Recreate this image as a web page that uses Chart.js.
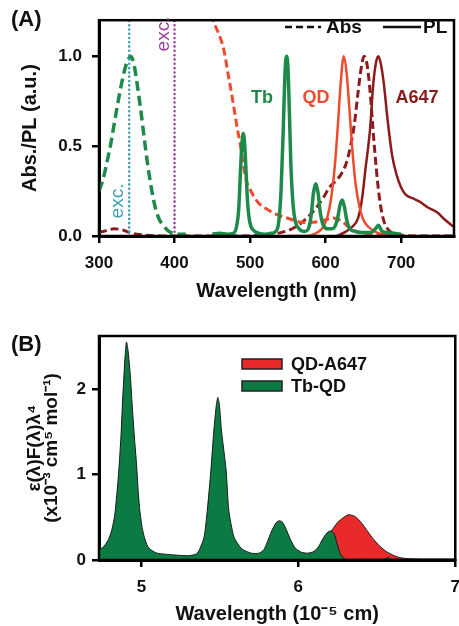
<!DOCTYPE html>
<html>
<head>
<meta charset="utf-8">
<script src="https://cdn.jsdelivr.net/npm/chart.js@4.4.1/dist/chart.umd.min.js"></script>
<style>
  html, body { margin: 0; padding: 0; background: #fff; overflow: hidden; width: 459px; height: 626px; }
  #chartA { position: absolute; left: 0; top: 0; }
  #chartB { position: absolute; left: 0; top: 310px; }
</style>
</head>
<body>
<canvas id="chartA" width="459" height="310"></canvas>
<canvas id="chartB" width="470" height="316"></canvas>
<script>
// ---------- panel A: absorption / PL spectra ----------
const tbAbsNm = [300, 305, 310, 315, 320, 325, 330, 335, 340, 342, 346, 350, 355, 360, 365, 370, 375, 380, 385, 390, 395, 400, 408, 415];
const tbAbsVal = [0.25, 0.31, 0.4, 0.5, 0.62, 0.74, 0.85, 0.94, 0.99, 1.0, 0.96, 0.86, 0.71, 0.54, 0.38, 0.25, 0.15, 0.09, 0.06, 0.035, 0.02, 0.015, 0.01, 0.01];

const tbPlNm = [450, 460, 470, 478, 482, 485, 487, 489, 491, 493, 495, 497, 500, 505, 512, 520, 528, 535, 538, 541, 544, 546, 548, 550, 552, 554, 557, 560, 565, 572, 578, 581, 584, 587, 590, 593, 597, 603, 608, 612, 616, 619, 622, 625, 628, 632, 640, 648, 660, 666, 670, 674, 680, 690, 700];
const tbPlVal = [0.01, 0.015, 0.01, 0.015, 0.05, 0.15, 0.33, 0.5, 0.57, 0.5, 0.33, 0.17, 0.07, 0.03, 0.015, 0.01, 0.015, 0.03, 0.08, 0.25, 0.6, 0.88, 1.0, 0.95, 0.7, 0.4, 0.17, 0.08, 0.04, 0.025, 0.05, 0.12, 0.24, 0.29, 0.24, 0.13, 0.06, 0.04, 0.04, 0.05, 0.1, 0.17, 0.2, 0.16, 0.09, 0.04, 0.025, 0.02, 0.02, 0.04, 0.06, 0.03, 0.02, 0.015, 0.01];

const qdAbsNm = [445, 451, 458, 465, 471, 478, 483, 487, 491, 495, 500, 505, 512, 522, 535, 549, 560, 570, 580, 590, 600, 610, 618, 625, 632, 640, 650, 665, 680, 700];
const qdAbsVal = [1.3, 1.2, 1.13, 1.04, 0.9, 0.73, 0.6, 0.51, 0.4, 0.31, 0.26, 0.22, 0.18, 0.15, 0.12, 0.1, 0.085, 0.075, 0.075, 0.08, 0.09, 0.1, 0.09, 0.07, 0.045, 0.025, 0.015, 0.008, 0.005, 0];

const qdPlNm = [550, 575, 585, 595, 602, 607, 612, 616, 620, 624, 628, 632, 636, 640, 645, 650, 657, 665, 675, 690, 700];
const qdPlVal = [0, 0, 0.01, 0.04, 0.1, 0.2, 0.38, 0.6, 0.85, 1.0, 0.9, 0.68, 0.45, 0.28, 0.16, 0.09, 0.05, 0.025, 0.01, 0, 0];

const a647AbsNm = [300, 310, 320, 330, 340, 350, 360, 380, 420, 480, 530, 550, 560, 570, 580, 590, 598, 605, 612, 620, 627, 633, 638, 643, 647, 651, 655, 659, 663, 667, 671, 676, 682, 690, 700, 720, 770];
const a647AbsVal = [0.02, 0.03, 0.04, 0.035, 0.02, 0.01, 0.005, 0, 0, 0, 0.01, 0.03, 0.05, 0.08, 0.12, 0.17, 0.22, 0.27, 0.3, 0.34, 0.4, 0.5, 0.62, 0.8, 0.93, 1.0, 0.95, 0.8, 0.58, 0.38, 0.22, 0.1, 0.04, 0.015, 0.005, 0, 0];

const a647PlNm = [615, 625, 635, 643, 648, 653, 659, 663, 667, 670, 673, 677, 682, 688, 694, 700, 706, 715, 725, 735, 748, 758, 770];
const a647PlVal = [0, 0.02, 0.05, 0.1, 0.2, 0.38, 0.6, 0.84, 0.97, 1.0, 0.96, 0.85, 0.65, 0.45, 0.34, 0.27, 0.23, 0.21, 0.19, 0.16, 0.13, 0.09, 0.05];

const excNm = [340, 400];
const xTicksA = [300, 400, 500, 600, 700];
const yTicksA = [0, 0.5, 1.0];
const yTickLabelsA = ['0.0', '0.5', '1.0'];

// ---------- panel B: overlap integrands ----------
const tbQdCm = [4.73, 4.75, 4.77, 4.79, 4.81, 4.83, 4.85, 4.86, 4.87, 4.88, 4.895, 4.905, 4.915, 4.93, 4.94, 4.955, 4.97, 4.98, 4.99, 5.005, 5.02, 5.04, 5.06, 5.1, 5.2, 5.3, 5.35, 5.37, 5.4, 5.42, 5.443, 5.462, 5.478, 5.487, 5.497, 5.51, 5.54, 5.557, 5.59, 5.64, 5.7, 5.75, 5.78, 5.8, 5.83, 5.86, 5.88, 5.9, 5.92, 5.95, 5.98, 6.02, 6.06, 6.1, 6.13, 6.16, 6.19, 6.21, 6.23, 6.25, 6.27, 6.3, 6.4, 6.55, 6.57, 6.59, 6.7, 7.0];
const tbQdVal = [0.13, 0.14, 0.18, 0.24, 0.34, 0.52, 0.9, 1.15, 1.45, 1.85, 2.35, 2.55, 2.45, 2.15, 1.85, 1.45, 1.1, 0.8, 0.58, 0.38, 0.26, 0.16, 0.12, 0.08, 0.06, 0.05, 0.07, 0.12, 0.27, 0.58, 1.05, 1.52, 1.82, 1.9, 1.82, 1.52, 1.05, 0.58, 0.27, 0.13, 0.08, 0.08, 0.12, 0.2, 0.34, 0.44, 0.46, 0.44, 0.37, 0.24, 0.14, 0.09, 0.08, 0.1, 0.16, 0.26, 0.33, 0.34, 0.3, 0.17, 0.06, 0.01, 0.01, 0.01, 0.03, 0.01, 0.01, 0.01];

const qdA647Cm = [5.5, 6.0, 6.06, 6.1, 6.15, 6.2, 6.25, 6.29, 6.32, 6.36, 6.4, 6.44, 6.48, 6.52, 6.56, 6.6, 6.64, 6.7, 6.8, 7.0];
const qdA647Val = [0.01, 0.01, 0.04, 0.08, 0.16, 0.31, 0.44, 0.5, 0.53, 0.51, 0.44, 0.34, 0.24, 0.16, 0.1, 0.06, 0.03, 0.015, 0.01, 0.01];

const xTicksB = [5, 6, 7];
const yTicksB = [0, 1, 2];

const FONT = '"Liberation Sans", Arial, sans-serif';
Chart.defaults.font.family = FONT;
Chart.defaults.color = '#111';

const toPts = (xs, ys) => xs.map((x, i) => ({ x: x, y: ys[i] }));

function line(data, color, width, dash) {
  return {
    data: data,
    borderColor: color,
    borderWidth: width,
    borderDash: dash || [],
    pointRadius: 0,
    fill: false,
    cubicInterpolationMode: 'monotone',
    borderJoinStyle: 'round'
  };
}

function axisStyle(tickPad) {
  return {
    border: { color: '#000', width: 3 },
    grid: { drawOnChartArea: false, drawTicks: true, tickLength: 7, lineWidth: 2.5, color: '#000' },
    ticks: { color: '#111', padding: tickPad, maxRotation: 0, font: { size: 17, weight: 'bold' } }
  };
}

const framePlugin = {
  id: 'frame',
  afterDatasetsDraw(chart) {
    const { ctx, chartArea: a } = chart;
    ctx.save();
    ctx.strokeStyle = '#000';
    ctx.lineWidth = 2.5;
    ctx.strokeRect(a.left, a.top, a.right - a.left, a.bottom - a.top);
    ctx.restore();
  }
};

const labelsA = {
  id: 'labelsA',
  afterDraw(chart) {
    const ctx = chart.ctx;
    const xs = chart.scales.x;
    ctx.save();
    ctx.textBaseline = 'middle';
    ctx.fillStyle = '#111';
    ctx.font = 'bold 22px ' + FONT;
    ctx.textAlign = 'left';
    ctx.fillText('(A)', 11, 20);

    // legend
    ctx.strokeStyle = '#111';
    ctx.lineWidth = 2.5;
    ctx.setLineDash([7, 4]);
    ctx.beginPath(); ctx.moveTo(285, 27); ctx.lineTo(321, 27); ctx.stroke();
    ctx.setLineDash([]);
    ctx.beginPath(); ctx.moveTo(383, 27); ctx.lineTo(421, 27); ctx.stroke();
    ctx.font = 'bold 19px ' + FONT;
    ctx.fillText('Abs', 326, 28);
    ctx.fillText('PL', 423, 28);

    // curve labels
    ctx.font = 'bold 18px ' + FONT;
    ctx.textAlign = 'center';
    ctx.fillStyle = '#1d8a4a'; ctx.fillText('Tb', 262, 98);
    ctx.fillStyle = '#ee4a2e'; ctx.fillText('QD', 316, 98);
    ctx.fillStyle = '#8c1c1c'; ctx.fillText('A647', 417, 98);

    // excitation labels
    ctx.font = '19px ' + FONT;
    ctx.save();
    ctx.translate(xs.getPixelForValue(excNm[1]) - 11, 34);
    ctx.rotate(-Math.PI / 2);
    ctx.fillStyle = '#9b3f9e';
    ctx.fillText('exc.', 0, 0);
    ctx.restore();
    ctx.save();
    ctx.translate(xs.getPixelForValue(excNm[0]) - 11, 201);
    ctx.rotate(-Math.PI / 2);
    ctx.fillStyle = '#3d9fb2';
    ctx.fillText('exc.', 0, 0);
    ctx.restore();
    ctx.restore();
  }
};

const labelsB = {
  id: 'labelsB',
  afterDraw(chart) {
    const ctx = chart.ctx;
    const items = [['QD-A647', '#e82a2a'], ['Tb-QD', '#0b7a43']];
    ctx.save();
    ctx.fillStyle = '#111';
    ctx.textBaseline = 'middle';
    ctx.textAlign = 'left';
    ctx.font = 'bold 22px ' + FONT;
    ctx.fillText('(B)', 11, 35);
    ctx.font = 'bold 18px ' + FONT;
    items.forEach((it, i) => {
      const y = 54 + i * 22;
      ctx.fillStyle = it[1];
      ctx.fillRect(242, y - 5, 40, 10);
      ctx.strokeStyle = '#222';
      ctx.lineWidth = 1.5;
      ctx.strokeRect(242, y - 5, 40, 10);
      ctx.fillStyle = '#111';
      ctx.fillText(it[0], 291, y + 1);
    });
    ctx.restore();
  }
};

const xA = axisStyle(10);
xA.type = 'linear';
xA.min = 300;
xA.max = 770;
xA.afterBuildTicks = s => { s.ticks = xTicksA.map(v => ({ value: v })); };
xA.afterFit = s => { s.height = 74; };
xA.ticks.callback = v => String(v);
xA.title = { display: true, text: 'Wavelength (nm)', color: '#111', font: { size: 20, weight: 'bold' }, padding: { top: 0, bottom: 7 } };

const yA = axisStyle(10);
yA.min = 0;
yA.max = 1.2;
yA.afterBuildTicks = s => { s.ticks = yTicksA.map(v => ({ value: v })); };
yA.afterFit = s => { s.width = 99; };
yA.ticks.callback = (v, i) => yTickLabelsA[i];
yA.title = { display: true, text: 'Abs./PL (a.u.)', color: '#111', font: { size: 20, weight: 'bold' }, padding: { top: 18, bottom: 0 } };

new Chart(document.getElementById('chartA'), {
  type: 'line',
  data: {
    datasets: [
      Object.assign(line(toPts([excNm[0], excNm[0]], [0, 1.2]), '#3d9fb2', 2.5, [0.1, 4.2]), { borderCapStyle: 'round' }),
      Object.assign(line(toPts([excNm[1], excNm[1]], [0, 1.2]), '#9b3f9e', 2.5, [0.1, 4.2]), { borderCapStyle: 'round' }),
      line(toPts(tbPlNm, tbPlVal), '#1d8a4a', 3.5),
      line(toPts(tbAbsNm, tbAbsVal), '#1d8a4a', 3.5, [10, 5]),
      line(toPts(qdAbsNm, qdAbsVal), '#ee4a2e', 3, [8, 4]),
      line(toPts(qdPlNm, qdPlVal), '#ee4a2e', 2.5),
      line(toPts(a647AbsNm, a647AbsVal), '#8c1c1c', 3, [8, 4]),
      line(toPts(a647PlNm, a647PlVal), '#8c1c1c', 2.5)
    ]
  },
  options: {
    responsive: false,
    animation: false,
    layout: { padding: { left: 0, right: 5, top: 11, bottom: 0 } },
    plugins: { legend: { display: false }, tooltip: { enabled: false } },
    scales: { x: xA, y: yA }
  },
  plugins: [framePlugin, labelsA]
});

const xB = axisStyle(10);
xB.type = 'linear';
xB.min = 4.73;
xB.max = 7;
xB.afterBuildTicks = s => { s.ticks = xTicksB.map(v => ({ value: v })); };
xB.afterFit = s => { s.height = 66; };
xB.ticks.callback = v => String(v);
xB.title = { display: true, text: 'Wavelength (10\u207B\u2075 cm)', color: '#111', font: { size: 20, weight: 'bold' }, padding: { top: 0, bottom: 0 } };

const yB = axisStyle(6);
yB.min = 0;
yB.max = 2.62;
yB.afterBuildTicks = s => { s.ticks = yTicksB.map(v => ({ value: v })); };
yB.afterFit = s => { s.width = 99; };
yB.ticks.callback = v => String(v);
yB.title = {
  display: true,
  text: ['\u03B5(\u03BB)F(\u03BB)\u03BB\u2074', '(x10\u207B\u00B3 cm\u2075 mol\u207B\u00B9)'],
  color: '#111',
  font: { size: 19, weight: 'bold', lineHeight: 0.9 },
  padding: { top: 26, bottom: 0 }
};

new Chart(document.getElementById('chartB'), {
  type: 'line',
  data: {
    datasets: [
      {
        label: 'QD-A647',
        data: toPts(qdA647Cm, qdA647Val),
        order: 1,
        borderColor: '#1a1a1a',
        borderWidth: 1,
        backgroundColor: '#e82a2a',
        fill: 'origin',
        pointRadius: 0,
        tension: 0.2
      },
      {
        label: 'Tb-QD',
        data: toPts(tbQdCm, tbQdVal),
        order: 0,
        borderColor: '#1a1a1a',
        borderWidth: 1,
        backgroundColor: '#0b7a43',
        fill: 'origin',
        pointRadius: 0,
        tension: 0.2
      }
    ]
  },
  options: {
    responsive: false,
    animation: false,
    layout: { padding: { left: 0, right: 13, top: 26, bottom: 0 } },
    plugins: { legend: { display: false }, tooltip: { enabled: false } },
    scales: { x: xB, y: yB }
  },
  plugins: [framePlugin, labelsB]
});
</script>
</body>
</html>
